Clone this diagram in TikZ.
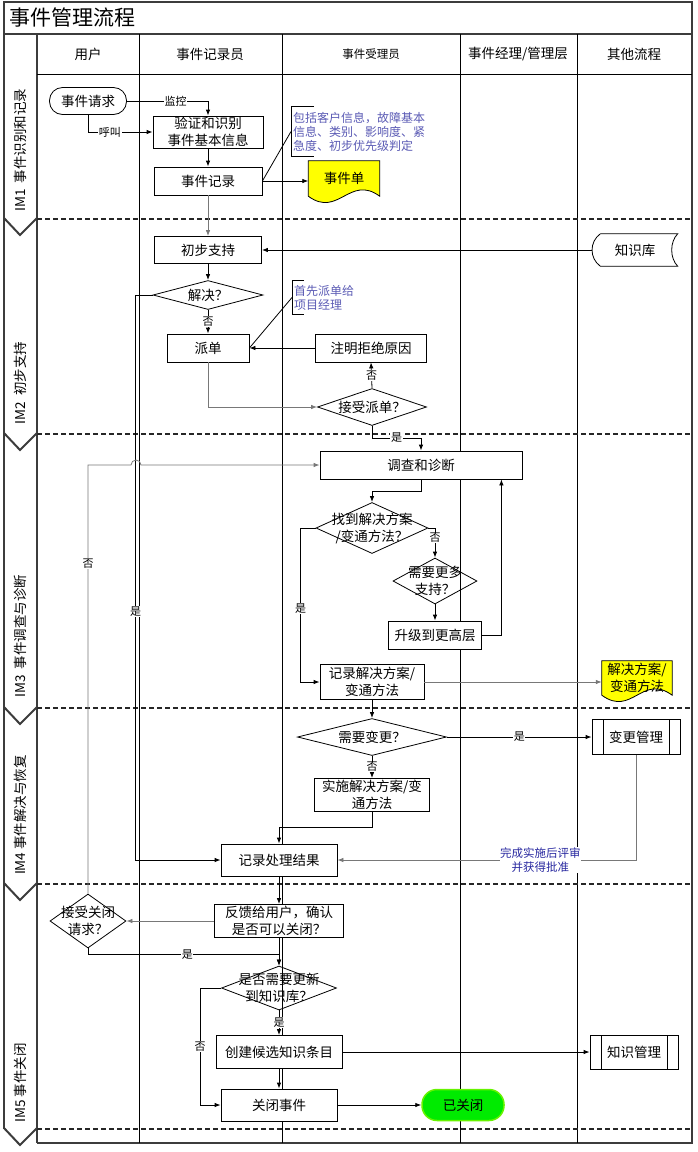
\documentclass[tikz,border=0pt]{standalone}
\usepackage{fontspec}
\setmainfont{Noto Sans CJK SC}
\usetikzlibrary{arrows.meta,shapes.geometric}

\definecolor{notizblau}{RGB}{90,90,180}
\definecolor{dunkelblau}{RGB}{40,40,160}
\definecolor{liniengrau}{RGB}{120,120,120}
\definecolor{rahmengrau}{RGB}{60,60,60}
\definecolor{belegfarbe}{RGB}{255,255,0}
\definecolor{fertiggruen}{RGB}{0,235,0}

\newcommand{\schrift}[2]{\fontsize{#1}{#2}\selectfont}

\pgfdeclarelayer{hinten}
\pgfsetlayers{hinten,main}

\tikzset{
  kasten/.style={draw, fill=white, line width=0.8pt, align=center, inner sep=1pt, font=\schrift{13.5}{17}},
  raute/.style={draw, diamond, line width=0.8pt, inner sep=0pt},
  rtext/.style={align=center, inner sep=0pt, font=\schrift{13.5}{17}},
  beleg/.style={align=center, inner sep=0pt, font=\schrift{13.5}{17}},
  unterproz/.style={kasten, path picture={
      \draw[line width=0.8pt] ([xshift=11pt]path picture bounding box.north west) -- ([xshift=11pt]path picture bounding box.south west);
      \draw[line width=0.8pt] ([xshift=-11pt]path picture bounding box.north east) -- ([xshift=-11pt]path picture bounding box.south east);}},
  notiz/.style={anchor=west, align=left, inner xsep=2pt, inner ysep=0pt, text=notizblau, font=\schrift{12}{14}},
  lbl/.style={fill=white, inner sep=0.6pt, font=\schrift{11}{13}},
  pfeil/.style={-{Latex[length=6pt,width=4.5pt]}, line width=0.8pt},
  pfeilg/.style={pfeil, draw=liniengrau},
  linie/.style={line width=0.8pt},
  kopf/.style={font=\schrift{13.5}{16}},
  phase/.style={rotate=90, font=\schrift{13.5}{16}},
  trenn/.style={line width=2pt, dash pattern=on 5pt off 3pt, draw=black!85},
  spalte/.style={line width=1pt},
  band/.style={line width=2pt, draw=rahmengrau},
}

\begin{document}
\begin{tikzpicture}[x=1pt, y=-1pt]
  \useasboundingbox (0,0) rectangle (697,1152);
  % Rahmen und Spalten
  \draw[band] (4,1129) -- (4,2) -- (692,2) -- (692,1143) -- (37,1143);
  \draw[band] (4,34) -- (692,34);
  \draw[band] (37,34) -- (37,1143);
  \draw[spalte] (37,74) -- (692,74);
  \foreach \x in {139,282,460,577}
    \draw[spalte] (\x,34) -- (\x,1143);
  \foreach \y in {219,434,708,884,1129} {
    \draw[trenn] (37,\y) -- (692,\y);
    \draw[band] (4,{\y-1}) -- (20,{\y+16}) -- (37,{\y-1});
  }
  % Titel und Kopfzeile
  \node[anchor=west, font=\schrift{21}{24}] (titel) at (6,18) {事件管理流程};
  \node[kopf] (k1) at (88,54) {用户};
  \node[kopf] (k2) at (210,54) {事件记录员};
  \node[font=\schrift{11.5}{14}] (k3) at (371,54) {事件受理员};
  \node[kopf] (k4) at (518,54) {事件经理/管理层};
  \node[kopf] (k5) at (634,54) {其他流程};
  % Phasen
  \node[phase] (p1) at (20,150) {IM1\ \ 事件识别和记录};
  \node[phase] (p2) at (20,383) {IM2\ \ 初步支持};
  \node[phase] (p3) at (20,636) {IM3\ \ 事件调查与诊断};
  \node[phase] (p4) at (20,815) {IM4\ 事件解决与恢复};
  \node[phase] (p5) at (20,1083) {IM5\ 事件关闭};

  % IM1
  \node[kasten, rounded corners=13pt, minimum width=77pt, minimum height=27pt] (anfr) at (88,101) {事件请求};
  \node[kasten, minimum width=110pt, minimum height=32pt] (pruef) at (208,132) {验证和识别\\事件基本信息};
  \node[kasten, minimum width=108pt, minimum height=28pt] (erfass) at (208,181) {事件记录};
  \node[beleg, minimum width=71pt, minimum height=35pt] (schein) at (344,178.5) {事件单};
  \node[notiz, minimum height=49pt] (hinw1) at (291,131.5) {包括客户信息，故障基本\\信息、类别、影响度、紧\\急度、初步优先级判定};
  % IM2
  \node[kasten, minimum width=107pt, minimum height=27pt] (erst) at (208,250) {初步支持};
  \node[beleg, minimum width=85pt, minimum height=32pt] (wissen) at (635,250) {知识库};
  \node[raute, minimum width=110pt, minimum height=29pt] (geloest) at (208,295) {};
  \node[rtext] at (geloest) {解决？};
  \node[kasten, minimum width=82pt, minimum height=28pt] (zuweis) at (208,348) {派单};
  \node[kasten, minimum width=111pt, minimum height=28pt] (grund) at (371,348) {注明拒绝原因};
  \node[notiz, minimum height=33pt] (hinw2) at (292,297.5) {首先派单给\\项目经理};
  \node[raute, minimum width=109pt, minimum height=37pt] (annahme) at (372,407) {};
  \node[rtext] at (annahme) {接受派单？};
  % IM3
  \node[kasten, minimum width=202pt, minimum height=28pt] (diag) at (421,465) {调查和诊断};
  \node[raute, minimum width=112pt, minimum height=51pt] (gefunden) at (372,528) {};
  \node[rtext] at (gefunden) {找到解决方案\\/变通方法？};
  \node[raute, minimum width=84pt, minimum height=46pt] (mehr) at (435,581) {};
  \node[rtext] at (mehr) {需要更多\\支持？};
  \node[kasten, minimum width=93pt, minimum height=28pt] (eskal) at (435,635) {升级到更高层};
  \node[kasten, minimum width=104pt, minimum height=35pt] (loesung) at (372,682) {记录解决方案/\\变通方法};
  \node[beleg, minimum width=70pt, minimum height=34pt] (lschein) at (637,678) {解决方案/\\变通方法};
  % IM4
  \node[raute, minimum width=149pt, minimum height=37pt] (aend) at (372,737) {};
  \node[rtext] at (aend) {需要变更？};
  \node[unterproz, minimum width=88pt, minimum height=35pt] (aendmgmt) at (636,737) {变更管理};
  \node[kasten, minimum width=115pt, minimum height=33pt] (umsetz) at (372,795) {实施解决方案/变\\通方法};
  \node[kasten, minimum width=116pt, minimum height=32pt] (ergeb) at (279,860) {记录处理结果};
  % IM5
  \node[kasten, minimum width=129pt, minimum height=33pt] (rueck) at (279,921) {反馈给用户，确认\\是否可以关闭？};
  \node[raute, minimum width=76pt, minimum height=54pt] (schliessok) at (88,921) {};
  \node[rtext] at (schliessok) {接受关闭\\请求？};
  \node[raute, minimum width=115pt, minimum height=44pt] (aktual) at (279,988) {};
  \node[rtext] at (aktual) {是否需要更新\\到知识库？};
  \node[kasten, minimum width=126pt, minimum height=33pt] (eintrag) at (279,1052) {创建候选知识条目};
  \node[unterproz, minimum width=88pt, minimum height=34pt] (wmgmt) at (634,1052) {知识管理};
  \node[kasten, minimum width=116pt, minimum height=32pt] (schliess) at (279,1105) {关闭事件};
  \node[kasten, rounded corners=15pt, fill=fertiggruen, draw=fertiggruen!60!yellow, line width=1.5pt, minimum width=82pt, minimum height=31pt] (zu) at (463,1105) {已关闭};

  % Belege und Datenspeicher
  \begin{pgfonlayer}{hinten}
    \draw[linie, fill=belegfarbe] (schein.north west) -- (schein.north east) -- (schein.south east)
      .. controls +(-30,-22) and +(30,22) .. (schein.south west) -- cycle;
    \draw[linie, fill=belegfarbe] (lschein.north west) -- (lschein.north east) -- (lschein.south east)
      .. controls +(-30,-22) and +(30,22) .. (lschein.south west) -- cycle;
    \draw[linie, fill=white] ([xshift=8pt]wissen.north west) -- (wissen.north east)
      .. controls +(-8,8) and +(-8,-8) .. (wissen.south east) -- ([xshift=8pt]wissen.south west)
      .. controls +(-11,-8) and +(-11,8) .. ([xshift=8pt]wissen.north west);
  \end{pgfonlayer}
  % Hinweise
  \draw[linie] ([xshift=23pt]hinw1.north west) -- (hinw1.north west) -- (hinw1.south west) -- ([xshift=23pt]hinw1.south west);
  \draw[linie] ([xshift=12pt]hinw2.north west) -- (hinw2.north west) -- (hinw2.south west) -- ([xshift=12pt]hinw2.south west);
  \draw[linie] (erfass.east) -- (hinw1.west);
  \draw[linie] (hinw2.west) -- (zuweis.east);

  % Verbindungen IM1
  \draw[pfeil] (anfr.east) -| node[lbl, pos=0.3]{监控} (pruef.north);
  \draw[pfeil] (anfr.south) |- node[lbl, pos=0.67]{呼叫} (pruef.west);
  \draw[pfeil] (pruef.south) -- (erfass.north);
  \draw[pfeil] (erfass.east) -- (erfass.east -| schein.west);
  \draw[pfeilg] (erfass.south) -- (erst.north);
  % Verbindungen IM2
  \draw[pfeil] (wissen.west) -- (erst.east);
  \draw[pfeil] (erst.south) -- (geloest.north);
  \draw[pfeil] (geloest.south) -- node[lbl]{否} (zuweis.north);
  \draw[pfeil] (grund.west) -- (zuweis.east);
  \draw[pfeilg] (zuweis.south) |- (annahme.west);
  \draw[pfeil] (annahme.north) -- node[lbl]{否} (grund.south);
  \draw[pfeil] (annahme.south) -- ++(0,12) -| node[lbl, pos=0.25]{是} (diag.north);
  % Verbindungen IM3
  \draw[pfeil] (geloest.west) -- ++(-17,0) |- node[lbl, pos=0.28]{是} (ergeb.west);
  \draw[pfeilg] (schliessok.north) -- node[lbl, pos=0.77]{否} (88,465) -- (131,465)
    arc[start angle=180, end angle=360, radius=5] -- (diag.west);
  \draw[pfeil] (diag.south) -- ++(0,12) -| (gefunden.north);
  \draw[pfeil] (gefunden.east) -| node[lbl, pos=0.67]{否} (mehr.north);
  \draw[pfeil] (mehr.south) -- (eskal.north);
  \draw[pfeil] (eskal.east) -| ([xshift=-21pt]diag.south east);
  \draw[pfeil] (gefunden.west) -- ++(-15,0) |- node[lbl, pos=0.26]{是} (loesung.west);
  \draw[pfeilg] (loesung.east) -- (loesung.east -| lschein.west);
  % Verbindungen IM4
  \draw[pfeil] (loesung.south) -- (aend.north);
  \draw[pfeil] (aend.east) -- node[lbl]{是} (aendmgmt.west);
  \draw[pfeil] (aend.south) -- node[lbl]{否} (umsetz.north);
  \draw[pfeil] (umsetz.south) -- ++(0,15) -| (ergeb.north);
  \draw[pfeilg] (aendmgmt.south) |- node[lbl, pos=0.66, align=center, text=dunkelblau, font=\schrift{11.5}{14}]{完成实施后评审\\并获得批准} (ergeb.east);
  \draw[pfeil] (ergeb.south) -- (rueck.north);
  % Verbindungen IM5
  \draw[pfeilg] (rueck.west) -- (schliessok.east);
  \draw[pfeil] (schliessok.south) -- ++(0,6) -| node[lbl, pos=0.26]{是} (aktual.north);
  \draw[pfeil] (rueck.south) -- (aktual.north);
  \draw[pfeil] (aktual.south) -- node[lbl]{是} (eintrag.north);
  \draw[pfeil] (eintrag.east) -- (wmgmt.west);
  \draw[pfeil] (aktual.west) -- ++(-21,0) |- node[lbl, pos=0.25]{否} (schliess.west);
  \draw[pfeil] (eintrag.south) -- (schliess.north);
  \draw[pfeil] (schliess.east) -- (zu.west);
\end{tikzpicture}
\end{document}
